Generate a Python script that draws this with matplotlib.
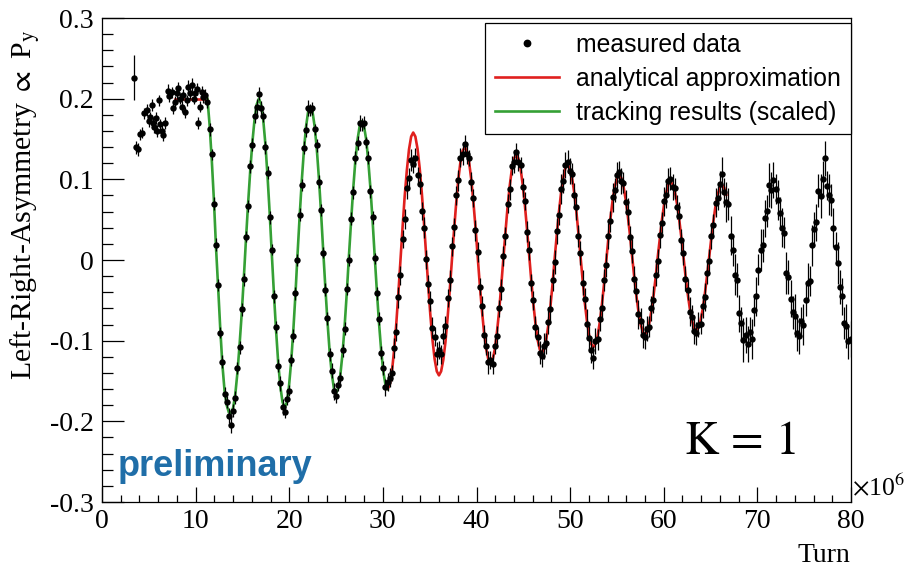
import matplotlib
matplotlib.use("Agg")
import matplotlib.pyplot as plt
from matplotlib.lines import Line2D
from matplotlib.ticker import MultipleLocator, FuncFormatter

plt.rcParams['font.family'] = ['Liberation Serif', 'DejaVu Serif']
plt.rcParams['mathtext.fontset'] = 'stix'

# measured asymmetry before the RF solenoid is switched on (turns in 1e6)
turn_early = [3.4, 3.6, 3.8, 4.1, 4.3, 4.5, 4.8, 5.0, 5.1, 5.3, 5.4, 5.6, 5.8, 5.9,
              6.1, 6.2, 6.4, 6.5, 6.7, 7.0, 7.2, 7.5, 7.6, 7.8, 8.0, 8.1, 8.3, 8.5,
              8.7, 8.9, 9.1, 9.2, 9.4, 9.6, 9.8, 9.9, 10.1, 10.3, 10.5, 10.7, 10.8, 11.0]
asym_early = [0.226, 0.140, 0.137, 0.156, 0.158, 0.182, 0.186, 0.172, 0.177, 0.192, 0.170,
              0.165, 0.176, 0.160, 0.198, 0.168, 0.160, 0.155, 0.170, 0.210, 0.203, 0.208,
              0.188, 0.196, 0.207, 0.213, 0.200, 0.190, 0.205, 0.183, 0.198, 0.215, 0.207,
              0.217, 0.200, 0.207, 0.212, 0.170, 0.190, 0.208, 0.202, 0.205]
err_early = [0.028, 0.008, 0.008, 0.007, 0.007, 0.007, 0.007, 0.007, 0.007, 0.007, 0.007,
             0.007, 0.007, 0.007, 0.007, 0.007, 0.007, 0.007, 0.007, 0.008, 0.007, 0.007,
             0.007, 0.007, 0.007, 0.008, 0.007, 0.007, 0.007, 0.007, 0.007, 0.008, 0.007,
             0.008, 0.007, 0.007, 0.008, 0.007, 0.007, 0.008, 0.007, 0.007]

# measured asymmetry during the oscillation
turn = [
    11.26, 11.49, 11.72, 11.95, 12.18, 12.41, 12.63, 12.86, 13.09, 13.32, 13.55, 13.78,
    14.01, 14.24, 14.47, 14.70, 14.93, 15.16, 15.38, 15.61, 15.84, 16.07, 16.30, 16.53,
    16.76, 16.99, 17.22, 17.45, 17.68, 17.91, 18.13, 18.36, 18.59, 18.82, 19.05, 19.28,
    19.50, 19.73, 19.96, 20.19, 20.42, 20.65, 20.87, 21.10, 21.33, 21.56, 21.79, 22.02,
    22.25, 22.48, 22.71, 22.94, 23.17, 23.40, 23.62, 23.85, 24.08, 24.31, 24.54, 24.77,
    25.00, 25.23, 25.46, 25.69, 25.92, 26.15, 26.37, 26.60, 26.83, 27.06, 27.29, 27.52,
    27.75, 27.98, 28.21, 28.44, 28.67, 28.90, 29.12, 29.35, 29.58, 29.81, 30.04, 30.27,
    30.50, 30.73, 30.96, 31.19, 31.42, 31.65, 31.87, 32.10, 32.33, 32.56, 32.79, 33.02,
    33.24, 33.47, 33.70, 33.93, 34.16, 34.39, 34.61, 34.84, 35.07, 35.30, 35.53, 35.76,
    35.99, 36.22, 36.45, 36.68, 36.91, 37.14, 37.36, 37.59, 37.82, 38.05, 38.28, 38.51,
    38.74, 38.97, 39.20, 39.43, 39.66, 39.89, 40.11, 40.34, 40.57, 40.80, 41.03, 41.26,
    41.49, 41.72, 41.95, 42.18, 42.41, 42.64, 42.86, 43.09, 43.32, 43.55, 43.78, 44.01,
    44.24, 44.47, 44.70, 44.93, 45.16, 45.39, 45.61, 45.84, 46.07, 46.30, 46.53, 46.76,
    46.98, 47.21, 47.44, 47.67, 47.90, 48.13, 48.35, 48.58, 48.81, 49.04, 49.27, 49.50,
    49.73, 49.96, 50.19, 50.42, 50.65, 50.88, 51.10, 51.33, 51.56, 51.79, 52.02, 52.25,
    52.48, 52.71, 52.94, 53.17, 53.40, 53.63, 53.85, 54.08, 54.31, 54.54, 54.77, 55.00,
    55.23, 55.46, 55.69, 55.92, 56.15, 56.38, 56.60, 56.83, 57.06, 57.29, 57.52, 57.75,
    57.98, 58.21, 58.44, 58.67, 58.90, 59.13, 59.35, 59.58, 59.81, 60.04, 60.27, 60.50,
    60.72, 60.95, 61.18, 61.41, 61.64, 61.87, 62.09, 62.32, 62.55, 62.78, 63.01, 63.24,
    63.47, 63.70, 63.93, 64.16, 64.39, 64.62, 64.84, 65.07, 65.30, 65.53, 65.76, 65.99,
    66.22, 66.45, 66.68, 66.91, 67.14, 67.37, 67.59, 67.82, 68.05, 68.28, 68.51, 68.74,
    68.97, 69.20, 69.43, 69.66, 69.89, 70.12, 70.34, 70.57, 70.80, 71.03, 71.26, 71.49,
    71.72, 71.95, 72.18, 72.41, 72.64, 72.87, 73.09, 73.32, 73.55, 73.78, 74.01, 74.24,
    74.46, 74.69, 74.92, 75.15, 75.38, 75.61, 75.83, 76.06, 76.29, 76.52, 76.75, 76.98,
    77.21, 77.44, 77.67, 77.90, 78.13, 78.36, 78.58, 78.81, 79.04, 79.27, 79.50, 79.73,
    79.96]
asym = [
    0.196, 0.162, 0.131, 0.070, 0.019, -0.031, -0.090, -0.126, -0.166, -0.176, -0.193, -0.205,
    -0.187, -0.171, -0.134, -0.108, -0.061, -0.024, 0.029, 0.067, 0.116, 0.143, 0.179, 0.190,
    0.206, 0.189, 0.178, 0.140, 0.108, 0.053, 0.013, -0.045, -0.083, -0.131, -0.153, -0.182,
    -0.188, -0.172, -0.162, -0.124, -0.094, -0.041, 0.000, 0.056, 0.093, 0.139, 0.161, 0.188,
    0.186, 0.188, 0.162, 0.142, 0.097, 0.062, 0.009, -0.037, -0.072, -0.117, -0.137, -0.163,
    -0.169, -0.155, -0.146, -0.112, -0.085, -0.036, 0.000, 0.051, 0.084, 0.127, 0.145, 0.170,
    0.168, 0.170, 0.146, 0.127, 0.085, 0.053, 0.002, -0.041, -0.073, -0.115, -0.134, -0.158,
    -0.151, -0.146, -0.140, -0.109, -0.089, -0.046, -0.019, 0.026, 0.051, 0.089, 0.102, 0.124,
    0.119, 0.127, 0.105, 0.094, 0.061, 0.040, 0.001, -0.030, -0.051, -0.084, -0.095, -0.116,
    -0.112, -0.117, -0.094, -0.082, -0.047, -0.025, 0.017, 0.041, 0.080, 0.099, 0.127, 0.132,
    0.144, 0.131, 0.126, 0.097, 0.077, 0.037, 0.010, -0.033, -0.057, -0.093, -0.106, -0.127,
    -0.124, -0.129, -0.107, -0.094, -0.060, -0.036, 0.005, 0.030, 0.070, 0.088, 0.117, 0.122,
    0.134, 0.122, 0.118, 0.090, 0.073, 0.035, 0.012, -0.028, -0.050, -0.083, -0.095, -0.115,
    -0.119, -0.107, -0.103, -0.077, -0.061, -0.025, -0.002, 0.036, 0.056, 0.088, 0.098, 0.118,
    0.122, 0.110, 0.107, 0.081, 0.066, 0.030, 0.009, -0.028, -0.048, -0.079, -0.097, -0.112,
    -0.121, -0.100, -0.098, -0.073, -0.059, -0.025, -0.006, 0.030, 0.048, 0.078, 0.087, 0.105,
    0.109, 0.098, 0.096, 0.072, 0.060, 0.028, 0.011, -0.023, -0.039, -0.067, -0.075, -0.093,
    -0.096, -0.085, -0.083, -0.060, -0.049, -0.018, -0.001, 0.031, 0.046, 0.073, 0.080, 0.098,
    0.101, 0.090, 0.089, 0.066, 0.055, 0.025, 0.009, -0.023, -0.037, -0.064, -0.071, -0.088,
    -0.091, -0.080, -0.079, -0.057, -0.046, -0.016, -0.001, 0.030, 0.044, 0.071, 0.077, 0.094,
    0.106, 0.084, 0.072, 0.069, 0.030, 0.012, -0.018, -0.025, -0.066, -0.078, -0.099, -0.093,
    -0.104, -0.089, -0.098, -0.062, -0.045, -0.012, 0.012, 0.018, 0.052, 0.061, 0.093, 0.087,
    0.099, 0.088, 0.074, 0.058, 0.040, 0.034, -0.016, -0.021, -0.048, -0.065, -0.069, -0.091,
    -0.094, -0.076, -0.080, -0.050, -0.028, -0.026, 0.018, 0.038, 0.047, 0.086, 0.079, 0.101,
    0.126, 0.092, 0.081, 0.074, 0.040, 0.016, -0.004, -0.033, -0.045, -0.078, -0.082, -0.101,
    -0.098]
asym_err = (
    [0.008, 0.008, 0.007, 0.008, 0.008, 0.008, 0.007, 0.008, 0.008, 0.008, 0.009, 0.010] * 7
    + [0.011, 0.012, 0.010, 0.012, 0.011, 0.013, 0.012, 0.011, 0.012, 0.013, 0.012, 0.014] * 6
    + [0.014, 0.016, 0.013, 0.015, 0.017, 0.014, 0.015, 0.016, 0.013, 0.018, 0.015, 0.016] * 7
    + [0.022, 0.018, 0.025, 0.020, 0.024, 0.019, 0.026, 0.021, 0.023, 0.020, 0.027, 0.022] * 5
    + [0.022])

# tracking simulation (scaled), sampled on turn[0:85]
tracking = [
    0.200, 0.168, 0.125, 0.075, 0.015, -0.035, -0.085, -0.130, -0.162, -0.180, -0.189, -0.190,
    -0.183, -0.166, -0.139, -0.104, -0.065, -0.020, 0.026, 0.071, 0.112, 0.147, 0.175, 0.193,
    0.200, 0.193, 0.174, 0.144, 0.104, 0.058, 0.009, -0.041, -0.087, -0.127, -0.157, -0.176,
    -0.183, -0.177, -0.158, -0.128, -0.090, -0.045, 0.004, 0.052, 0.097, 0.135, 0.165, 0.184,
    0.190, 0.184, 0.166, 0.138, 0.101, 0.058, 0.013, -0.033, -0.076, -0.113, -0.141, -0.159,
    -0.165, -0.159, -0.142, -0.116, -0.081, -0.040, 0.004, 0.047, 0.088, 0.123, 0.149, 0.166,
    0.172, 0.166, 0.150, 0.123, 0.089, 0.049, 0.006, -0.037, -0.077, -0.111, -0.138, -0.154,
    -0.160]

# analytical approximation, flat part and oscillation sampled on turn[84:243]
analytic_flat_turn = [7.8, 11.26]
analytic_flat = [0.200, 0.200]
analytic = [
    -0.160, -0.155, -0.139, -0.113, -0.081, -0.042, -0.001, 0.040, 0.079, 0.111, 0.137, 0.153,
    0.158, 0.153, 0.138, 0.114, 0.083, 0.046, 0.008, -0.031, -0.068, -0.099, -0.123, -0.138,
    -0.143, -0.138, -0.124, -0.102, -0.072, -0.038, -0.002, 0.035, 0.069, 0.099, 0.121, 0.135,
    0.140, 0.135, 0.122, 0.101, 0.073, 0.041, 0.006, -0.029, -0.061, -0.089, -0.110, -0.123,
    -0.128, -0.124, -0.111, -0.090, -0.064, -0.032, 0.001, 0.034, 0.066, 0.092, 0.113, 0.126,
    0.130, 0.126, 0.114, 0.094, 0.069, 0.039, 0.008, -0.024, -0.054, -0.079, -0.099, -0.111,
    -0.115, -0.111, -0.099, -0.081, -0.057, -0.029, 0.002, 0.032, 0.060, 0.084, 0.102, 0.114,
    0.118, 0.114, 0.103, 0.085, 0.062, 0.034, 0.005, -0.024, -0.052, -0.075, -0.093, -0.104,
    -0.108, -0.104, -0.094, -0.077, -0.055, -0.029, -0.002, 0.026, 0.052, 0.074, 0.091, 0.101,
    0.105, 0.102, 0.092, 0.076, 0.056, 0.032, 0.007, -0.019, -0.043, -0.063, -0.079, -0.089,
    -0.092, -0.089, -0.079, -0.064, -0.045, -0.022, 0.003, 0.027, 0.050, 0.069, 0.084, 0.094,
    0.097, 0.094, 0.085, 0.070, 0.051, 0.029, 0.005, -0.019, -0.041, -0.060, -0.075, -0.084,
    -0.087, -0.084, -0.075, -0.061, -0.042, -0.020, 0.003, 0.026, 0.048, 0.067, 0.081, 0.090,
    0.093, 0.090, 0.081]

RED = '#e0201e'
GREEN = '#35a035'

W, H = 907, 569
fig = plt.figure(figsize=(W / 100, H / 100), dpi=100)
ax = fig.add_axes([102 / W, 1 - 502 / H, (851 - 102) / W, (502 - 18) / H])

ax.plot(analytic_flat_turn, analytic_flat, color=RED, lw=1.9, zorder=2)
ax.plot(turn[84:84 + len(analytic)], analytic, color=RED, lw=1.9, zorder=2)
ax.plot(turn[:len(tracking)], tracking, color=GREEN, lw=1.9, zorder=2)

for xs, ys, es in [(turn_early, asym_early, err_early), (turn, asym, asym_err)]:
    ax.errorbar(xs, ys, yerr=es, fmt='o', color='black', ms=4.6, mew=0,
                elinewidth=0.9, capsize=0, zorder=3)

ax.set_xlim(0, 80)
ax.set_ylim(-0.3, 0.3)
ax.xaxis.set_major_locator(MultipleLocator(10))
ax.xaxis.set_minor_locator(MultipleLocator(2))
ax.yaxis.set_major_locator(MultipleLocator(0.1))
ax.yaxis.set_minor_locator(MultipleLocator(0.02))
ax.yaxis.set_major_formatter(FuncFormatter(lambda v, p: '0' if abs(v) < 1e-9 else f'{v:.1f}'))
ax.xaxis.set_major_formatter(FuncFormatter(lambda v, p: f'{v:.0f}'))
ax.tick_params(which='both', direction='in', top=False, right=False, labelsize=20, width=0.9)
ax.tick_params(axis='x', which='major', length=10.5, pad=5)
ax.tick_params(axis='x', which='minor', length=5.2)
ax.tick_params(axis='y', which='major', length=16, pad=6)
ax.tick_params(axis='y', which='minor', length=8)
for s in ax.spines.values():
    s.set_linewidth(0.9)

handles = [Line2D([], [], ls='none', marker='o', ms=4.6, color='black'),
           Line2D([], [], color=RED, lw=1.9),
           Line2D([], [], color=GREEN, lw=1.9)]
labels = ['measured data', 'analytical approximation', 'tracking results (scaled)']
leg = ax.legend(handles, labels, loc='upper right', bbox_to_anchor=(1.0, 0.99),
                borderaxespad=0, fancybox=False, framealpha=1, edgecolor='black',
                prop={'family': 'Liberation Sans', 'size': 17.8},
                handlelength=2.6, handletextpad=0.7, labelspacing=0.4, borderpad=0.4)
leg.get_frame().set_linewidth(0.9)

fig.text(25 / W, 1 - 30 / H, r'Left-Right-Asymmetry $\propto$ P$_{\mathrm{y}}$',
         rotation=90, ha='center', va='top', fontsize=21.5)
fig.text(850 / W, 1 - 556 / H, 'Turn', ha='right', va='center', fontsize=20)
fig.text(852 / W, 1 - 500 / H, r'$\times$10$^{6}$', ha='left', va='bottom', fontsize=18.5)
fig.text(740 / W, 1 - 443 / H, r'$\mathrm{K}\,=\,1$', ha='center', va='center', fontsize=34)
fig.text(118 / W, 1 - 466 / H, 'preliminary', ha='left', va='center', fontsize=26,
         family='Liberation Sans', weight='bold', color='#1f6ea8')

fig.savefig('out.png', dpi=100)
